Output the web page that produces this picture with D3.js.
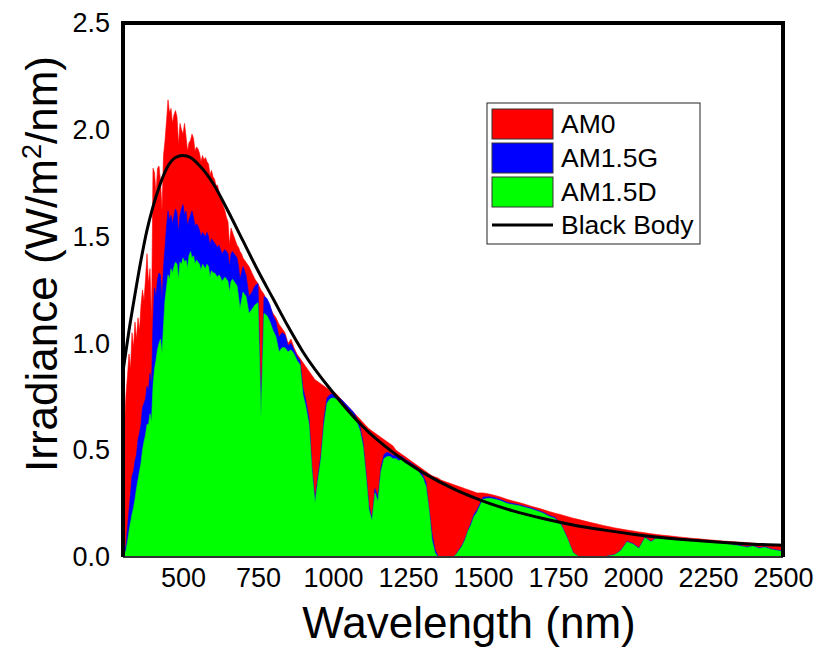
<!DOCTYPE html>
<html>
<head>
<meta charset="utf-8">
<script src="https://cdn.jsdelivr.net/npm/d3@7/dist/d3.min.js"></script>
<style>
  body { margin: 0; background: #fff; }
  svg { display: block; }
  text { font-family: "Liberation Sans", Arial, Helvetica, sans-serif; fill: #000; }
</style>
</head>
<body>
<svg id="chart" width="817" height="650"></svg>
<script>
// Wavelength grid (nm) shared by the three spectra
const wavelengths = [
  300,305,310,315,320,325,330,335,340,345,350,355,360,365,370,375,380,385,390,395,
  400,405,410,415,420,425,430,435,440,445,450,455,460,465,470,475,480,485,490,495,
  500,505,510,515,520,525,530,535,540,545,550,555,560,565,570,575,580,585,590,595,
  600,605,610,615,620,625,630,635,640,645,650,655,660,665,670,675,680,685,690,695,
  700,
  710,720,730,740,750,760,770,780,790,800,810,820,830,840,850,860,870,880,890,900,
  910,920,930,940,950,960,970,980,990,1000,1010,1020,1030,1040,1050,1060,1070,1080,1090,1100,
  1110,1120,1130,1140,1150,1160,1170,1180,1190,1200,1210,1220,1230,1240,1250,1260,1270,1280,1290,1300,
  1310,1320,1330,1340,1350,1360,1370,1380,1390,1400,1410,1420,1430,1440,1450,1460,1470,1480,1490,1500,
  1520,1540,1560,1580,1600,1620,1640,1660,1680,1700,1720,1740,1760,1780,1800,1820,1840,1860,1880,1900,
  1920,1940,1960,1980,2000,2020,2040,2060,2080,2100,2120,2140,2160,2180,2200,2220,2240,2260,2280,2300,
  2320,2340,2360,2380,2400,2420,2440,2460,2480,2500
];

// Extraterrestrial spectrum (W/m^2/nm)
const am0 = [
  0.50,0.62,0.76,0.85,0.95,0.88,1.05,0.98,1.10,1.02,1.12,1.06,1.18,1.25,1.20,1.30,1.42,1.28,1.35,1.10,
  1.82,1.80,1.70,1.82,1.83,1.76,1.62,1.88,1.95,2.04,2.14,2.08,2.10,2.03,2.07,2.09,2.06,1.93,2.03,2.00,
  1.98,2.03,1.97,1.90,1.94,1.95,1.98,1.96,1.90,1.92,1.91,1.89,1.85,1.88,1.86,1.87,1.85,1.84,1.79,1.81,
  1.78,1.77,1.74,1.74,1.71,1.68,1.66,1.64,1.62,1.59,1.57,1.46,1.54,1.52,1.50,1.48,1.46,1.45,1.43,1.42,
  1.40,
  1.38,1.36,1.33,1.30,1.28,1.25,1.23,1.20,1.17,1.14,1.12,1.09,1.07,1.05,1.00,1.02,0.98,0.95,0.93,0.91,
  0.89,0.87,0.85,0.83,0.82,0.81,0.80,0.79,0.78,0.775,0.765,0.75,0.735,0.72,0.705,0.69,0.675,0.66,0.645,0.63,
  0.615,0.60,0.59,0.58,0.57,0.56,0.55,0.54,0.53,0.52,0.50,0.49,0.48,0.47,0.46,0.45,0.44,0.43,0.42,0.41,
  0.40,0.39,0.38,0.375,0.37,0.36,0.355,0.35,0.345,0.34,0.335,0.33,0.325,0.32,0.315,0.31,0.305,0.30,0.30,0.30,
  0.295,0.288,0.28,0.27,0.262,0.255,0.247,0.238,0.23,0.222,0.213,0.205,0.198,0.19,0.182,0.175,0.168,0.161,0.155,0.148,
  0.142,0.136,0.131,0.126,0.122,0.117,0.113,0.109,0.105,0.102,0.099,0.096,0.093,0.09,0.087,0.085,0.082,0.08,0.077,0.075,
  0.073,0.071,0.069,0.067,0.065,0.063,0.061,0.059,0.058,0.056
];

// Global tilt spectrum, air mass 1.5
const am15g = [
  0.00,0.02,0.06,0.14,0.22,0.30,0.38,0.40,0.45,0.48,0.55,0.58,0.62,0.70,0.72,0.74,0.80,0.78,0.86,0.80,
  1.10,1.26,1.22,1.30,1.33,1.32,1.20,1.36,1.45,1.55,1.62,1.58,1.60,1.56,1.60,1.63,1.61,1.52,1.60,1.63,
  1.65,1.60,1.62,1.55,1.58,1.60,1.62,1.59,1.55,1.56,1.55,1.53,1.50,1.52,1.51,1.50,1.52,1.50,1.46,1.49,
  1.48,1.47,1.46,1.45,1.46,1.44,1.42,1.43,1.44,1.43,1.42,1.36,1.42,1.43,1.42,1.41,1.40,1.36,1.30,1.33,
  1.36,
  1.32,1.22,1.24,1.27,1.28,0.70,1.22,1.21,1.18,1.13,1.10,1.03,1.05,1.04,0.99,1.00,0.97,0.94,0.92,0.79,
  0.73,0.65,0.42,0.27,0.38,0.48,0.65,0.745,0.76,0.765,0.755,0.745,0.735,0.72,0.705,0.69,0.675,0.65,0.61,0.54,
  0.40,0.24,0.18,0.32,0.28,0.42,0.48,0.49,0.485,0.475,0.475,0.465,0.47,0.455,0.45,0.44,0.43,0.42,0.40,0.38,
  0.35,0.23,0.11,0.035,0.005,0,0,0,0,0,0.012,0.035,0.055,0.085,0.125,0.16,0.20,0.22,0.25,0.28,
  0.282,0.277,0.268,0.256,0.25,0.245,0.237,0.23,0.22,0.21,0.195,0.185,0.155,0.093,0.022,0,0,0,0,0,
  0.006,0.012,0.033,0.073,0.063,0.043,0.093,0.073,0.093,0.093,0.088,0.088,0.083,0.083,0.081,0.078,0.075,0.073,0.071,0.068,
  0.063,0.058,0.053,0.048,0.053,0.043,0.048,0.038,0.033,0.028
];

// Direct + circumsolar spectrum, air mass 1.5
const am15d = [
  0.00,0.01,0.03,0.07,0.12,0.16,0.20,0.23,0.27,0.32,0.36,0.40,0.44,0.50,0.54,0.57,0.62,0.62,0.67,0.63,
  0.80,0.88,0.92,0.97,1.00,1.02,0.95,1.08,1.20,1.26,1.32,1.30,1.35,1.33,1.36,1.38,1.37,1.30,1.38,1.37,
  1.40,1.38,1.39,1.35,1.41,1.43,1.40,1.41,1.37,1.39,1.38,1.37,1.34,1.37,1.36,1.35,1.37,1.36,1.31,1.34,
  1.33,1.33,1.32,1.31,1.32,1.31,1.29,1.30,1.31,1.30,1.29,1.24,1.29,1.30,1.29,1.28,1.27,1.22,1.16,1.20,
  1.24,
  1.22,1.14,1.16,1.18,1.19,0.65,1.14,1.13,1.10,1.06,1.03,0.96,0.98,0.98,0.96,0.97,0.95,0.92,0.90,0.76,
  0.70,0.62,0.40,0.25,0.36,0.46,0.62,0.72,0.74,0.745,0.74,0.73,0.72,0.70,0.69,0.68,0.66,0.63,0.59,0.52,
  0.38,0.22,0.17,0.30,0.26,0.40,0.46,0.47,0.47,0.46,0.46,0.45,0.46,0.44,0.44,0.43,0.42,0.41,0.39,0.37,
  0.33,0.22,0.08,0.02,0,0,0,0,0,0,0.01,0.03,0.05,0.08,0.12,0.15,0.19,0.21,0.24,0.27,
  0.275,0.27,0.262,0.25,0.245,0.24,0.232,0.225,0.215,0.205,0.19,0.18,0.15,0.09,0.02,0,0,0,0,0,
  0.005,0.01,0.03,0.07,0.06,0.04,0.09,0.07,0.09,0.09,0.085,0.085,0.08,0.08,0.078,0.075,0.072,0.07,0.068,0.065,
  0.06,0.055,0.05,0.045,0.05,0.04,0.045,0.035,0.03,0.025
];

// Black body curve samples
const bbWavelengths = [300,320,340,360,380,400,425,450,475,500,525,550,600,650,700,750,800,850,900,
  1000,1100,1200,1300,1400,1500,1600,1700,1800,1900,2000,2200,2400,2500];
const bbValues = [0.87,1.06,1.23,1.39,1.53,1.64,1.75,1.83,1.87,1.88,1.87,1.84,1.75,1.62,1.48,1.34,1.21,1.08,0.96,
  0.77,0.61,0.49,0.395,0.32,0.262,0.216,0.18,0.15,0.127,0.107,0.078,0.06,0.055];

// Axis ticks
const xTicks = [500,750,1000,1250,1500,1750,2000,2250,2500];
const yTicks = [0,0.5,1.0,1.5,2.0,2.5];

const seriesNames = ["AM0","AM1.5G","AM1.5D"];
const seriesColors = ["#ff0000","#0000ff","#00ff00"];
const seriesValues = [am0, am15g, am15d];

const svg = d3.select("#chart");
const plot = {left: 123, right: 783, top: 23, bottom: 557};

const x = d3.scaleLinear().domain([300, 2500]).range([plot.left, plot.right]);
const y = d3.scaleLinear().domain([0, 2.5]).range([plot.bottom, plot.top]);

svg.append("defs").append("clipPath").attr("id", "plotClip")
  .append("rect")
  .attr("x", plot.left).attr("y", plot.top)
  .attr("width", plot.right - plot.left).attr("height", plot.bottom - plot.top);

const g = svg.append("g").attr("clip-path", "url(#plotClip)");

// Filled spectra, back to front
seriesValues.forEach((vals, i) => {
  const pts = wavelengths.map((w, k) => [w, vals[k]]);
  const area = d3.area()
    .x(d => x(d[0]))
    .y0(y(0))
    .y1(d => y(d[1]))
    .curve(d3.curveLinear);
  g.append("path")
    .datum(pts)
    .attr("d", area)
    .attr("fill", seriesColors[i])
    .attr("stroke", seriesColors[i])
    .attr("stroke-width", 0.6);
});

// Black body curve
const bbPts = bbWavelengths.map((w, k) => [w, bbValues[k]]);
g.append("path")
  .datum(bbPts)
  .attr("d", d3.line().x(d => x(d[0])).y(d => y(d[1])).curve(d3.curveMonotoneX))
  .attr("fill", "none")
  .attr("stroke", "#000")
  .attr("stroke-width", 3);

// Axes (labels only)
const tickFont = "27px";
const xAxis = svg.append("g")
  .attr("transform", `translate(0,${plot.bottom})`)
  .call(d3.axisBottom(x).tickValues(xTicks).tickSize(0).tickPadding(11).tickFormat(d3.format("d")));
xAxis.select(".domain").remove();
xAxis.selectAll("text").style("font-size", tickFont).style("font-family", '"Liberation Sans", Arial, sans-serif');

const yAxis = svg.append("g")
  .attr("transform", `translate(${plot.left},0)`)
  .call(d3.axisLeft(y).tickValues(yTicks).tickSize(0).tickPadding(13).tickFormat(d3.format(".1f")));
yAxis.select(".domain").remove();
yAxis.selectAll("text").style("font-size", tickFont).style("font-family", '"Liberation Sans", Arial, sans-serif');

// Frame
svg.append("line")
  .attr("x1", plot.left).attr("x2", plot.right)
  .attr("y1", plot.bottom).attr("y2", plot.bottom)
  .attr("stroke", "#333").attr("stroke-width", 2);
svg.append("path")
  .attr("d", `M${plot.left},${plot.bottom} V${plot.top} H${plot.right} V${plot.bottom}`)
  .attr("fill", "none")
  .attr("stroke", "#000")
  .attr("stroke-width", 4)
  .attr("stroke-linejoin", "miter");

// Axis titles
svg.append("text")
  .attr("x", 469).attr("y", 638)
  .attr("text-anchor", "middle")
  .style("font-size", "44px")
  .text("Wavelength (nm)");

const yTitle = svg.append("text")
  .attr("transform", "translate(57,264) rotate(-90)")
  .attr("text-anchor", "middle")
  .style("font-size", "44px");
yTitle.append("tspan").text("Irradiance (W/m");
yTitle.append("tspan").attr("dy", -16).style("font-size", "27px").text("2");
yTitle.append("tspan").attr("dy", 16).text("/nm)");

// Legend
const legendFont = "26.5px";
const legend = svg.append("g");
legend.append("rect")
  .attr("x", 487).attr("y", 103).attr("width", 213).attr("height", 141)
  .attr("fill", "#fff").attr("stroke", "#222").attr("stroke-width", 1);
seriesNames.forEach((name, i) => {
  const yy = 109 + i * 34;
  legend.append("rect")
    .attr("x", 492).attr("y", yy).attr("width", 61).attr("height", 30)
    .attr("fill", seriesColors[i]).attr("stroke", "#333").attr("stroke-width", 1);
  legend.append("text")
    .attr("x", 561).attr("y", yy + 15)
    .attr("dominant-baseline", "central")
    .style("font-size", legendFont)
    .text(name);
});
legend.append("line")
  .attr("x1", 492).attr("x2", 553).attr("y1", 225).attr("y2", 225)
  .attr("stroke", "#000").attr("stroke-width", 3);
legend.append("text")
  .attr("x", 561).attr("y", 225)
  .attr("dominant-baseline", "central")
  .style("font-size", legendFont)
  .text("Black Body");
</script>
</body>
</html>
